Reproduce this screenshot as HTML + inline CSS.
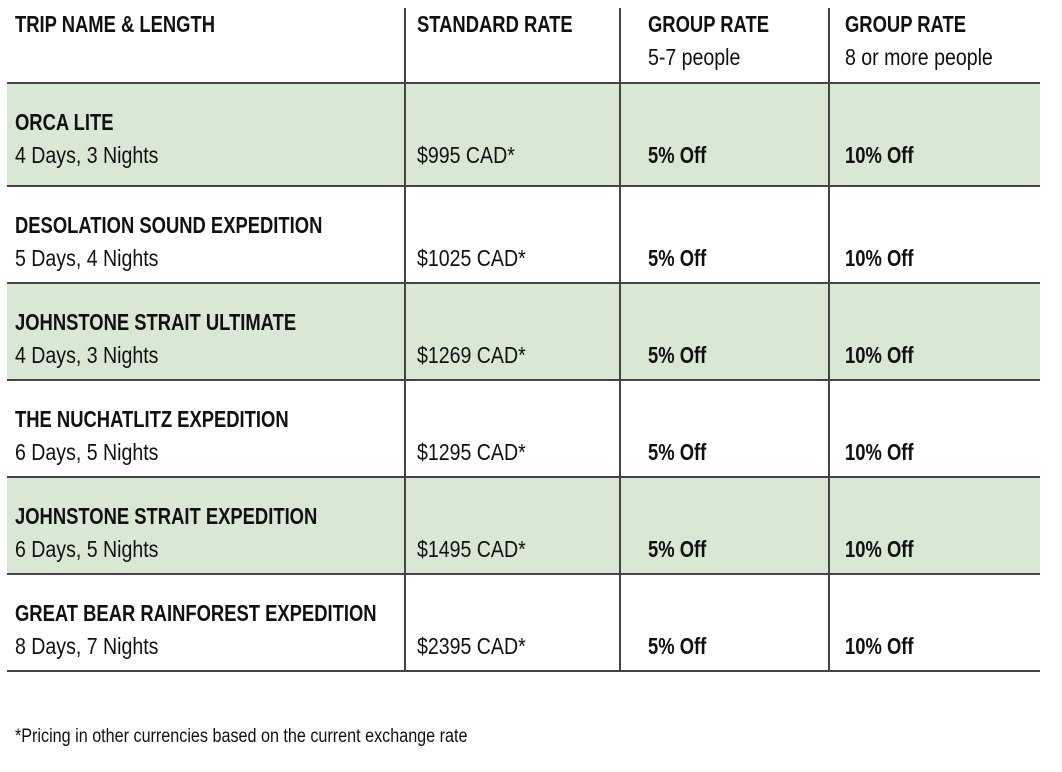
<!DOCTYPE html>
<html><head><meta charset="utf-8">
<style>
body{margin:0;width:1062px;height:772px;background:#fff;position:relative;overflow:hidden;font-family:"Liberation Sans",sans-serif;color:#111}
.t{position:absolute;white-space:nowrap;font-size:23px;line-height:24px;transform-origin:0 50%}
.b{font-weight:bold;transform:scaleX(0.8)}
.r{transform:scaleX(0.85)}
.row{position:absolute;left:7px;width:1033px}
.g{background:#d9e7d5}
.h{position:absolute;left:7px;width:1033px;height:2px;background:#444}
.v{position:absolute;top:8px;height:663px;width:2px;background:#444}
</style></head><body>
<div id="rows"></div>
<div class="v" style="left:404px"></div>
<div class="v" style="left:619px"></div>
<div class="v" style="left:828px"></div>
<div class="t b" style="left:15px;top:12px">TRIP NAME &amp; LENGTH</div>
<div class="t b" style="left:417px;top:12px">STANDARD RATE</div>
<div class="t b" style="left:648px;top:12px">GROUP RATE</div>
<div class="t r" style="left:648px;top:45px">5-7 people</div>
<div class="t b" style="left:845px;top:12px">GROUP RATE</div>
<div class="t r" style="left:845px;top:45px">8 or more people</div>
<div class="t r" style="left:15px;top:725px;font-size:19px">*Pricing in other currencies based on the current exchange rate</div>
<script>
const names=["ORCA LITE","DESOLATION SOUND EXPEDITION","JOHNSTONE STRAIT ULTIMATE","THE NUCHATLITZ EXPEDITION","JOHNSTONE STRAIT EXPEDITION","GREAT BEAR RAINFOREST EXPEDITION"];
const lengths=["4 Days, 3 Nights","5 Days, 4 Nights","4 Days, 3 Nights","6 Days, 5 Nights","6 Days, 5 Nights","8 Days, 7 Nights"];
const prices=["$995 CAD*","$1025 CAD*","$1269 CAD*","$1295 CAD*","$1495 CAD*","$2395 CAD*"];
const off1=["5% Off","5% Off","5% Off","5% Off","5% Off","5% Off"];
const off2=["10% Off","10% Off","10% Off","10% Off","10% Off","10% Off"];
const tops=[83,186,283,380,477,574,671];
const c=document.getElementById('rows');
function add(cls,x,y,txt,name){const d=document.createElement('div');d.className='t '+cls;d.style.left=x+'px';d.style.top=y+'px';d.textContent=txt;


c.appendChild(d);}
for(let i=0;i<names.length;i++){
 const y=tops[i];
 if(i%2==0){const r=document.createElement('div');r.className='row g';r.style.top=y+'px';r.style.height=(tops[i+1]-y)+'px';
 
 
 c.appendChild(r);}
 add('b',15,y+27,names[i],'trip-name');
 add('r',15,y+60,lengths[i],'trip-length');
 add('r',417,y+60,prices[i],'standard-rate');
 add('b',648,y+60,off1[i],'group-rate-5');
 add('b',845,y+60,off2[i],'group-rate-8');
}
for(let i=0;i<tops.length;i++){const h=document.createElement('div');h.className='h';h.style.top=(tops[i]-1)+'px';


c.appendChild(h);}
</script>
</body></html>
